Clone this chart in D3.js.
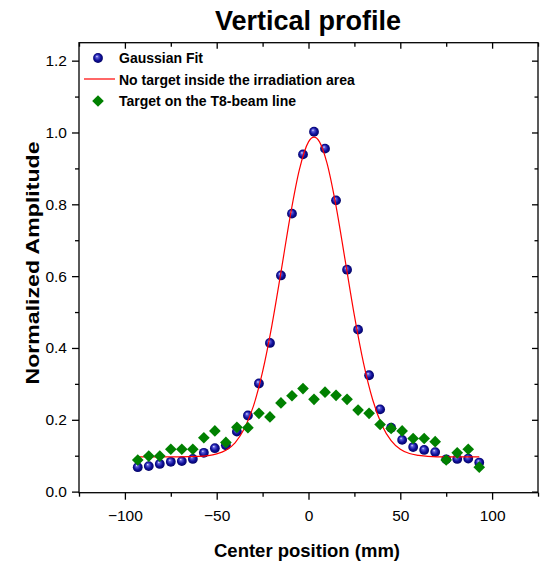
<!DOCTYPE html>
<html>
<head>
<meta charset="utf-8">
<script src="https://cdn.jsdelivr.net/npm/d3@7"></script>
<style>
    body { margin: 0; background: #fff; }
    text { font-family: "Liberation Sans", Arial, sans-serif; }
</style>
</head>
<body>
<div id="chart-area"></div>
<script>

// Data
let positions = [-93, -87, -81, -75, -69, -63, -57, -51, -45, -39, -33, -27, -21, -15, -9, -3,
    3, 9, 15, 21, 27, 33, 39, 45, 51, 57, 63, 69, 75, 81, 87, 93];

let gaussianValues = [0.068, 0.071, 0.077, 0.083, 0.085, 0.091, 0.108, 0.121, 0.129, 0.167, 0.212,
    0.301, 0.414, 0.602, 0.774, 0.939, 1.002, 0.955, 0.811, 0.618, 0.451, 0.324, 0.229, 0.178,
    0.144, 0.124, 0.116, 0.110, 0.090, 0.091, 0.092, 0.081];

let targetValues = [0.088, 0.099, 0.099, 0.118, 0.118, 0.118, 0.150, 0.169, 0.137, 0.179, 0.178,
    0.218, 0.208, 0.247, 0.267, 0.287, 0.257, 0.277, 0.268, 0.257, 0.227, 0.218, 0.187, 0.176,
    0.169, 0.148, 0.148, 0.139, 0.088, 0.108, 0.118, 0.068];

// red curve, sampled along the line
let curveX = [-93, -80, -70, -60, -50, -45, -40, -35, -30, -25, -20, -15, -10, -5, 0, 3, 6,
    10, 15, 20, 25, 30, 35, 40, 45, 50, 55, 60, 70, 80, 93];
let curveY = [0.097, 0.097, 0.097, 0.098, 0.105, 0.115, 0.136, 0.175, 0.238, 0.334, 0.461, 0.611,
    0.766, 0.896, 0.974, 0.987, 0.974, 0.916, 0.795, 0.643, 0.490, 0.357, 0.255, 0.185, 0.142,
    0.118, 0.106, 0.101, 0.097, 0.097, 0.097];

let xTicks = [-100, -50, 0, 50, 100];
let xMinorTicks = [-125, -75, -25, 25, 75, 125];
let yTicks = [0, 0.2, 0.4, 0.6, 0.8, 1.0, 1.2];
let yMinorTicks = [0.1, 0.3, 0.5, 0.7, 0.9, 1.1];

let legendLabels = ["Gaussian Fit", "No target inside the irradiation area", "Target on the T8-beam line"];

let gaussianData = positions.map(function (p, i) { return {x: p, y: gaussianValues[i]}; });
let targetData = positions.map(function (p, i) { return {x: p, y: targetValues[i]}; });
let curveData = curveX.map(function (p, i) { return {x: p, y: curveY[i]}; });

// SVG drawing area
let totalWidth = 544, totalHeight = 566;
let plot = {left: 79, right: 538, top: 42.7, bottom: 492.7};

let svg = d3.select("#chart-area").append("svg")
    .attr("width", totalWidth)
    .attr("height", totalHeight);

let defs = svg.append("defs");
let grad = defs.append("radialGradient")
    .attr("id", "ball")
    .attr("cx", "50%").attr("cy", "50%").attr("r", "55%")
    .attr("fx", "38%").attr("fy", "32%");
grad.append("stop").attr("offset", "0%").attr("stop-color", "#e8e8ff");
grad.append("stop").attr("offset", "22%").attr("stop-color", "#5a5ad8");
grad.append("stop").attr("offset", "60%").attr("stop-color", "#10109a");
grad.append("stop").attr("offset", "100%").attr("stop-color", "#00005a");

// Scales
let x = d3.scaleLinear()
    .domain([-125, 125])
    .range([plot.left, plot.right]);

let y = d3.scaleLinear()
    .domain([-0.003, 1.25])
    .range([plot.bottom, plot.top]);

// Axes
let xAxis = d3.axisBottom(x).tickValues(xTicks).tickSize(7).tickPadding(10)
    .tickFormat(d3.format("d"));
let xMinor = d3.axisBottom(x).tickValues(xMinorTicks).tickSize(4).tickFormat("");
let yAxis = d3.axisLeft(y).tickValues(yTicks).tickSize(7).tickPadding(5)
    .tickFormat(d3.format(".1f"));
let yMinor = d3.axisLeft(y).tickValues(yMinorTicks).tickSize(4).tickFormat("");

let xTop = d3.axisBottom(x).tickValues(xTicks).tickSize(6).tickFormat("");
let xTopMinor = d3.axisBottom(x).tickValues(xMinorTicks).tickSize(4).tickFormat("");
let yRight = d3.axisLeft(y).tickValues(yTicks).tickSize(6).tickFormat("");
let yRightMinor = d3.axisLeft(y).tickValues(yMinorTicks).tickSize(3.5).tickFormat("");

function styleAxis(g) {
    g.select(".domain").remove();
    g.selectAll("line").attr("stroke", "#000").attr("stroke-width", 1.3);
    g.selectAll("text").attr("fill", "#000").style("font-size", "15.5px")
        .style("font-family", "'Liberation Sans', Arial, sans-serif");
}

svg.append("g").attr("transform", "translate(0," + plot.bottom + ")").call(xAxis).call(styleAxis);
svg.append("g").attr("transform", "translate(0," + plot.bottom + ")").call(xMinor).call(styleAxis);
svg.append("g").attr("transform", "translate(" + plot.left + ",0)").call(yAxis).call(styleAxis);
svg.append("g").attr("transform", "translate(" + plot.left + ",0)").call(yMinor).call(styleAxis);

// mirrored ticks pointing inward
svg.append("g").attr("transform", "translate(0," + plot.top + ")").call(xTop).call(styleAxis);
svg.append("g").attr("transform", "translate(0," + plot.top + ")").call(xTopMinor).call(styleAxis);
svg.append("g").attr("transform", "translate(" + plot.right + ",0)").call(yRight).call(styleAxis);
svg.append("g").attr("transform", "translate(" + plot.right + ",0)").call(yRightMinor).call(styleAxis);

// frame
svg.append("rect")
    .attr("x", plot.left)
    .attr("y", plot.top)
    .attr("width", plot.right - plot.left)
    .attr("height", plot.bottom - plot.top)
    .attr("fill", "none")
    .attr("stroke", "#000")
    .attr("stroke-width", 1.3);

// Blue spheres
svg.selectAll(".ball")
    .data(gaussianData)
    .enter().append("circle")
    .attr("class", "ball")
    .attr("cx", function (d) { return x(d.x); })
    .attr("cy", function (d) { return y(d.y); })
    .attr("r", 4.9)
    .attr("fill", "url(#ball)");

// Red fit line
let line = d3.line()
    .x(function (d) { return x(d.x); })
    .y(function (d) { return y(d.y); })
    .curve(d3.curveMonotoneX);

svg.append("path")
    .attr("d", line(curveData))
    .attr("fill", "none")
    .attr("stroke", "#ff0000")
    .attr("stroke-width", 1.2);

// Green diamonds
let diamond = d3.symbol().type(d3.symbolSquare).size(68);

svg.selectAll(".diamond")
    .data(targetData)
    .enter().append("path")
    .attr("class", "diamond")
    .attr("d", diamond)
    .attr("transform", function (d) {
        return "translate(" + x(d.x) + "," + y(d.y) + ") rotate(45)";
    })
    .attr("fill", "#008000");

// Legend
let legend = svg.append("g").attr("class", "legend");

legend.append("circle").attr("cx", 98).attr("cy", 58).attr("r", 4.9).attr("fill", "url(#ball)");
legend.append("line").attr("x1", 84).attr("x2", 115).attr("y1", 79).attr("y2", 79)
    .attr("stroke", "#ff0000").attr("stroke-width", 1.2);
legend.append("path").attr("d", diamond)
    .attr("transform", "translate(98,101) rotate(45)").attr("fill", "#008000");

legend.selectAll("text")
    .data(legendLabels)
    .enter().append("text")
    .attr("x", 119)
    .attr("y", function (d, i) { return 63 + i * 21.5; })
    .style("font-size", "14px")
    .style("font-weight", "bold")
    .text(function (d) { return d; });

// Titles
svg.append("text")
    .attr("x", 308)
    .attr("y", 30)
    .attr("text-anchor", "middle")
    .style("font-size", "27px")
    .style("font-weight", "bold")
    .text("Vertical profile");

svg.append("text")
    .attr("x", 307)
    .attr("y", 557)
    .attr("text-anchor", "middle")
    .style("font-size", "18.5px")
    .style("font-weight", "bold")
    .text("Center position (mm)");

svg.append("text")
    .attr("transform", "translate(39," + 263 + ") rotate(-90)")
    .attr("text-anchor", "middle")
    .style("font-size", "19px")
    .style("font-weight", "bold")
    .attr("textLength", 243)
    .attr("lengthAdjust", "spacingAndGlyphs")
    .text("Normalized Amplitude");

</script>
</body>
</html>
